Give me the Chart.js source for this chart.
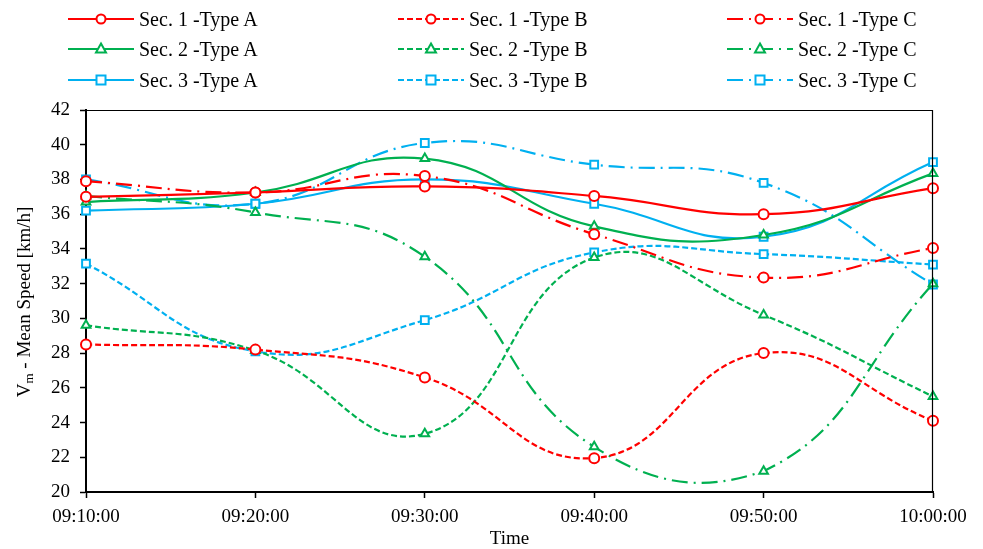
<!DOCTYPE html>
<html>
<head>
<meta charset="utf-8">
<script src="https://cdn.jsdelivr.net/npm/chart.js@4/dist/chart.umd.min.js"></script>
<style>
  html, body { margin: 0; padding: 0; background: #fff; }
  #wrap { position: relative; width: 983px; height: 549px; }
  #chart { position: absolute; left: 0; top: 0; }
  #legend { position: absolute; left: 0; top: 0; width: 983px; height: 100px; font-family: 'Liberation Serif', 'Times New Roman', serif; font-size: 20px; color: #000; }
  .item { position: absolute; height: 24px; display: flex; align-items: center; white-space: nowrap; }
  .item svg { display: block; margin-right: 5px; }
</style>
</head>
<body>
<div id="wrap">
  <canvas id="chart" width="983" height="549"></canvas>
  <div id="legend"></div>
</div>
<script>
// ---- data ----
const timeLabels = ['09:10:00', '09:20:00', '09:30:00', '09:40:00', '09:50:00', '10:00:00'];

const sec1TypeA = [37.0, 37.25, 37.6, 37.05, 36.0, 37.5];
const sec1TypeB = [28.5, 28.2, 26.6, 21.95, 28.0, 24.1];
const sec1TypeC = [37.9, 37.25, 38.2, 34.85, 32.35, 34.05];

const sec2TypeA = [36.7, 37.25, 39.2, 35.3, 34.8, 38.35];
const sec2TypeB = [29.6, 28.15, 23.35, 33.5, 30.2, 25.5];
const sec2TypeC = [37.05, 36.1, 33.55, 22.6, 21.2, 32.0];

const sec3TypeA = [36.2, 36.6, 38.0, 36.6, 34.7, 39.0];
const sec3TypeB = [33.15, 28.1, 29.9, 33.8, 33.7, 33.1];
const sec3TypeC = [38.0, 36.6, 40.1, 38.85, 37.8, 31.95];

const yTicks = [20, 22, 24, 26, 28, 30, 32, 34, 36, 38, 40, 42];

const seriesNames = [
  'Sec. 1 -Type A', 'Sec. 1 -Type B', 'Sec. 1 -Type C',
  'Sec. 2 -Type A', 'Sec. 2 -Type B', 'Sec. 2 -Type C',
  'Sec. 3 -Type A', 'Sec. 3 -Type B', 'Sec. 3 -Type C'
];
const seriesValues = [
  sec1TypeA, sec1TypeB, sec1TypeC,
  sec2TypeA, sec2TypeB, sec2TypeC,
  sec3TypeA, sec3TypeB, sec3TypeC
];

// ---- styles ----
const secColors = ['#FF0000', '#00B050', '#00B0F0'];
const secMarkers = ['circle', 'triangle', 'rect'];
const typeDash = [[], [6, 3], [16, 6, 2, 6]];

const FONT = "'Liberation Serif', 'Times New Roman', serif";

const datasets = seriesValues.map((vals, i) => {
  const sec = Math.floor(i / 3), typ = i % 3;
  return {
    label: seriesNames[i],
    data: vals,
    borderColor: secColors[sec],
    backgroundColor: '#ffffff',
    borderWidth: 2.2,
    borderDash: typeDash[typ],
    tension: 0.45,
    pointStyle: secMarkers[sec],
    pointRadius: sec === 2 ? 5.5 : 5,
    pointBorderWidth: 2,
    pointBorderColor: secColors[sec],
    pointBackgroundColor: '#ffffff',
    fill: false,
    clip: false
  };
});

// ---- legend (HTML) ----
const legend = document.getElementById('legend');
const colX = [68, 398, 727];
const rowY = [7, 37, 68];
seriesNames.forEach((name, i) => {
  const sec = Math.floor(i / 3), typ = i % 3;
  const c = secColors[sec];
  const dash = typeDash[typ].length ? `stroke-dasharray="${typeDash[typ].join(',')}"` : '';
  let marker;
  if (sec === 0) marker = `<circle cx="33" cy="12" r="4.5" fill="#fff" stroke="${c}" stroke-width="2"/>`;
  else if (sec === 1) marker = `<polygon points="33,6.5 38,15.5 28,15.5" fill="#fff" stroke="${c}" stroke-width="2"/>`;
  else marker = `<rect x="28.5" y="7.5" width="9" height="9" fill="#fff" stroke="${c}" stroke-width="2"/>`;
  const div = document.createElement('div');
  div.className = 'item';
  div.style.left = colX[i % 3] + 'px';
  div.style.top = rowY[Math.floor(i / 3)] + 'px';
  div.innerHTML = `<svg width="66" height="24"><line x1="0" y1="12" x2="66" y2="12" stroke="${c}" stroke-width="2.2" ${dash}/>${marker}</svg><span>${name}</span>`;
  legend.appendChild(div);
});

// ---- frame + titles plugin ----
const framePlugin = {
  id: 'frame',
  afterDraw(chart) {
    const ctx = chart.ctx;
    const a = chart.chartArea;
    ctx.save();
    ctx.strokeStyle = '#000';
    ctx.lineWidth = 1.2;
    ctx.beginPath();
    ctx.moveTo(a.left, a.top + 0.5);
    ctx.lineTo(a.right - 0.5, a.top + 0.5);
    ctx.lineTo(a.right - 0.5, a.bottom);
    ctx.stroke();

    // x title
    ctx.fillStyle = '#000';
    ctx.font = `19px ${FONT}`;
    ctx.textAlign = 'center';
    ctx.textBaseline = 'middle';
    ctx.fillText('Time', (a.left + a.right) / 2, 539);

    // y title with subscript
    ctx.translate(25, 302);
    ctx.rotate(-Math.PI / 2);
    const big = `19px ${FONT}`, small = `13px ${FONT}`;
    ctx.font = big; const wV = ctx.measureText('V').width;
    ctx.font = small; const wM = ctx.measureText('m').width;
    ctx.font = big; const rest = ' - Mean Speed [km/h]'; const wR = ctx.measureText(rest).width;
    let x = -(wV + wM + wR) / 2;
    ctx.textAlign = 'left';
    ctx.textBaseline = 'middle';
    ctx.font = big; ctx.fillText('V', x, 0); x += wV;
    ctx.font = small; ctx.fillText('m', x, 5); x += wM;
    ctx.font = big; ctx.fillText(rest, x, 0);
    ctx.restore();
  }
};

new Chart(document.getElementById('chart'), {
  type: 'line',
  data: { labels: timeLabels, datasets },
  options: {
    responsive: false,
    animation: false,
    events: [],
    layout: { padding: { top: 110, right: 50, left: 0, bottom: 0 } },
    plugins: { legend: { display: false }, tooltip: { enabled: false } },
    scales: {
      x: {
        type: 'category',
        offset: false,
        afterFit(scale) { scale.height = 57; },
        grid: { drawOnChartArea: false, drawTicks: true, tickLength: 6, tickColor: '#000', tickWidth: 1.5 },
        border: { display: true, color: '#000', width: 2 },
        ticks: { color: '#000', font: { family: FONT, size: 19 }, maxRotation: 0, autoSkip: false, padding: 8 }
      },
      y: {
        min: yTicks[0],
        max: yTicks[yTicks.length - 1],
        afterFit(scale) { scale.width = 86; },
        afterBuildTicks(scale) { scale.ticks = yTicks.map(v => ({ value: v })); },
        grid: { drawOnChartArea: false, drawTicks: true, tickLength: 6, tickColor: '#000', tickWidth: 1.5 },
        border: { display: true, color: '#000', width: 2 },
        ticks: { color: '#000', font: { family: FONT, size: 19 }, padding: 10 }
      }
    }
  },
  plugins: [framePlugin]
});
</script>
</body>
</html>
